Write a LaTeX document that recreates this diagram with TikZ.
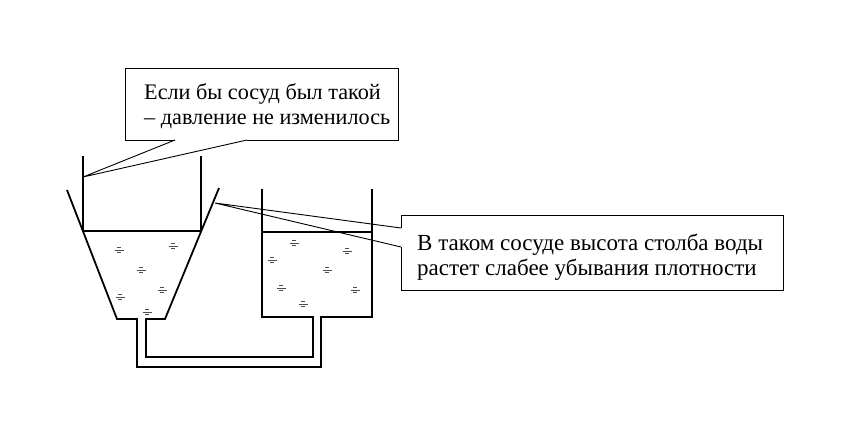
\documentclass[tikz,border=0pt]{standalone}
\usepackage{fontspec}
\setmainfont{Liberation Serif}
\begin{document}
\begin{tikzpicture}[x=1pt,y=-1pt,
  wall/.style={line width=1.8pt,line join=miter},
  call/.style={line width=0.9pt},
  wmark/.style={gray!60!black,line width=0.8pt},
  lbl/.style={font=\fontsize{23}{25.5}\selectfont,align=left,anchor=west,inner sep=0pt}]
\useasboundingbox (0,0) rectangle (849,423);
% left vessel + tube
\draw[wall] (67,190) -- (117,319) -- (137,319) -- (137,367) -- (321,367) -- (321,317) -- (372,317) -- (372,189);
\draw[wall] (262,189) -- (262,317) -- (313,317) -- (313,357) -- (146,357) -- (146,319) -- (165,319) -- (219,188);
\draw[wall] (83,156) -- (83,231);
\draw[wall] (201,156) -- (201,231);
\draw[wall] (83,231) -- (201,231);
\draw[wall] (262,232) -- (372,232);
% water marks
\foreach \mx/\my in {119/250,173/246,141/270,162/290,120/297,147/312,
  294/243,347/251,272/260,327/270,281/288,355/290,303/304}{
   \draw[wmark] (\mx-4.5,\my) -- (\mx+4.5,\my);
   \draw[wmark] (\mx-2,\my-2.5) -- (\mx+2,\my-2.5) (\mx-2,\my+2.5) -- (\mx+2,\my+2.5);
}
% callout 1
\coordinate (c1) at (83,177);
\draw[call] (175,140) -- (125,140) -- (125,68) -- (398,68) -- (398,140) -- (247,140);
\draw[call] (175,140) -- (c1) -- (247,140);
\node[lbl,font=\fontsize{22.2}{25.5}\selectfont] (t1) at (144,106) {Если бы сосуд был такой\\– давление не изменилось};
% callout 2
\coordinate (c2) at (215,203);
\draw[call] (401,228) -- (401,215) -- (783,215) -- (783,290) -- (401,290) -- (401,247);
\draw[call] (401,228) -- (c2) -- (401,247);
\node[lbl] (t2) at (417,257) {В таком сосуде высота столба воды\\растет слабее убывания плотности};
\end{tikzpicture}
\end{document}
